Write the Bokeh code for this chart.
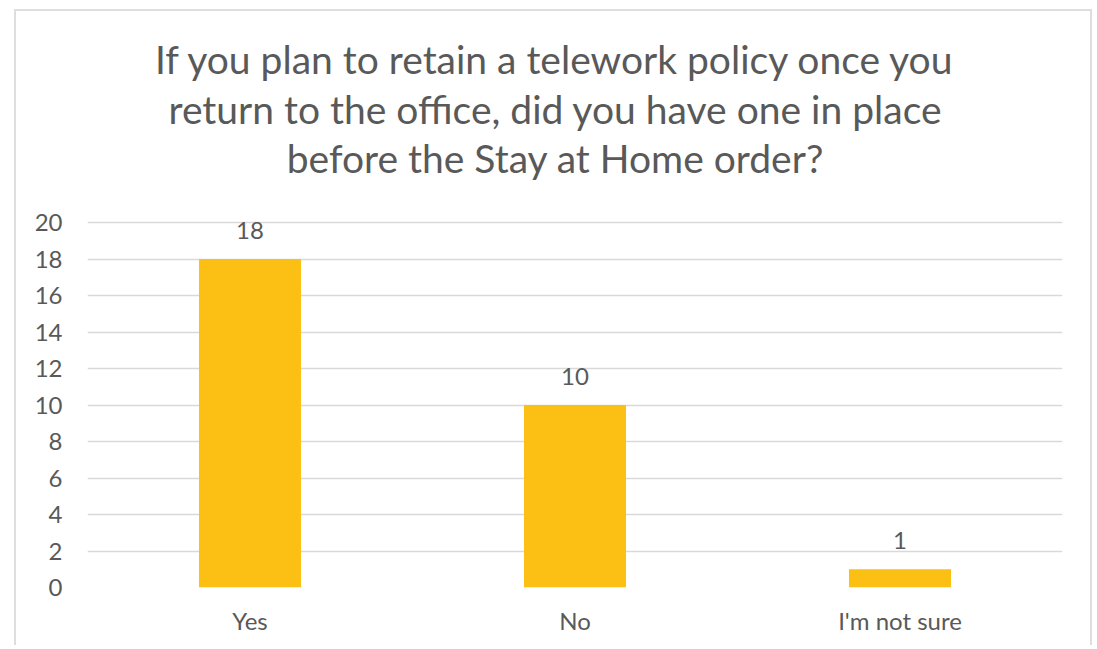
from bokeh.plotting import figure
from bokeh.models import FactorRange, Range1d, FixedTicker, Label, ColumnDataSource
from bokeh.core.properties import value
from bokeh.embed import file_html
from bokeh.resources import INLINE

# ---- data ----
categories = ["Yes", "No", "I'm not sure"]
counts = [18, 10, 1]
y_ticks = [0, 2, 4, 6, 8, 10, 12, 14, 16, 18, 20]
title_lines = [
    "If you plan to retain a telework policy once you",
    "return to the office, did you have one in place",
    "before the Stay at Home order?",
]

FONT = "Lato"
TXT = "#595959"
GRID = "#D9D9D9"
BAR = "#FBC013"
BORDER = "2px solid #DEDEDE"

W, H = 1078, 636
ML, MR, MT, MB = 71, 32, 10, 60
FW = W - ML - MR
FH = H - MT - MB
PX_PER_UNIT = 18.25
Y_END = FH / PX_PER_UNIT

src = ColumnDataSource(dict(cat=categories, val=counts, lab=[str(v) for v in counts]))

p = figure(width=W, height=H, x_range=FactorRange(*categories, range_padding=0),
           y_range=Range1d(0, Y_END), output_backend="svg", toolbar_location=None,
           min_border_left=ML, min_border_right=MR, min_border_top=MT, min_border_bottom=MB,
           styles={"margin-left": "14px", "margin-top": "9px",
                   "border-left": BORDER, "border-top": BORDER, "border-right": BORDER})
p.outline_line_color = None
p.background_fill_color = "white"
p.border_fill_color = "white"

p.vbar(x="cat", top="val", width=0.314, source=src, fill_color=BAR, line_color=None)
p.text(x="cat", y="val", text="lab", source=src, text_align="center", text_baseline="alphabetic",
       y_offset=-29, text_font=value(FONT), text_font_size="24px", text_color=TXT)

# axes
for ax in (p.xaxis, p.yaxis):
    ax.axis_line_color = None
    ax.major_tick_line_color = None
    ax.minor_tick_line_color = None
    ax.major_tick_out = 0
    ax.major_tick_in = 0
    ax.major_label_text_font = FONT
    ax.major_label_text_font_size = "24px"
    ax.major_label_text_color = TXT
p.yaxis.ticker = FixedTicker(ticks=y_ticks)
p.yaxis.major_label_standoff = 25
p.xaxis.major_label_standoff = 18

p.xgrid.grid_line_color = None
p.ygrid.grid_line_color = GRID
p.ygrid.grid_line_width = 1.5

# title lines (frame-relative screen units)
cx = 468
baselines = [47, 97, 146]
for line, b in zip(title_lines, baselines):
    p.add_layout(Label(x=cx, y=(MT + FH) - b, x_units="screen", y_units="screen", text=line,
                       text_align="center", text_baseline="alphabetic", text_font=FONT,
                       text_font_size="39px", text_color=TXT))

open("out.html", "w").write(file_html(p, INLINE))
